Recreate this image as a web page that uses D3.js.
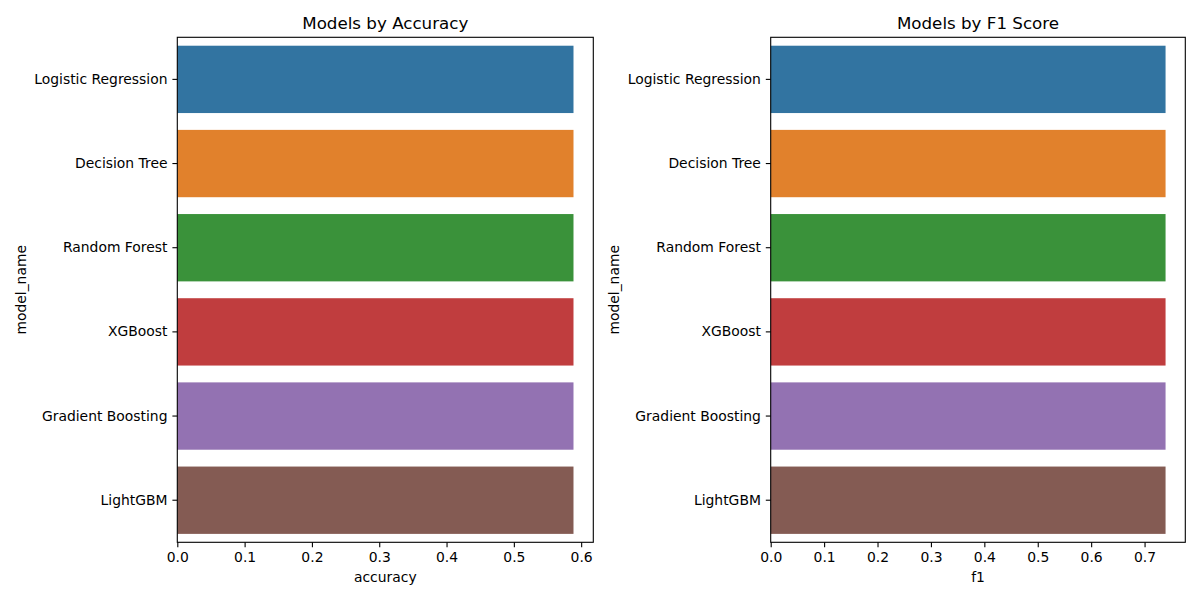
<!DOCTYPE html>
<html>
<head>
<meta charset="utf-8">
<script src="https://cdn.jsdelivr.net/npm/d3@7"></script>
<style>
  body { margin: 0; background: #fff; }
  text { font-family: "DejaVu Sans", sans-serif; fill: #000; }
</style>
</head>
<body>
<svg width="1200" height="600"></svg>
<script>
const models = ["Logistic Regression", "Decision Tree", "Random Forest", "XGBoost", "Gradient Boosting", "LightGBM"]
const accuracy = [0.5886, 0.5886, 0.5886, 0.5886, 0.5886, 0.5886]
const f1 = [0.7393, 0.7393, 0.7393, 0.7393, 0.7393, 0.7393]
const colors = ["#3274a1", "#e1812c", "#3a923a", "#c03d3e", "#9372b2", "#845b53"]
const accTicks = [0, 0.1, 0.2, 0.3, 0.4, 0.5, 0.6]
const f1Ticks = [0, 0.1, 0.2, 0.3, 0.4, 0.5, 0.6, 0.7]

const svg = d3.select("svg")
const plotTop = 37.3, plotBottom = 542.3
const fs = "13.9px"

function panel(x0, x1, values, ticks, title, xlabel, ylabelX) {
	var xScale = d3.scaleLinear()
		.domain([0, d3.max(values) * 1.05])
		.range([x0, x1])
	var yScale = d3.scaleBand()
		.domain(models)
		.range([plotTop, plotBottom])
		.paddingInner(0.2)
		.paddingOuter(0.1)

	var g = svg.append("g")

	g.selectAll("rect.bar").data(models).enter().append("rect")
		.attr("class", "bar")
		.attr("x", xScale(0))
		.attr("y", d => yScale(d))
		.attr("width", (d, i) => xScale(values[i]) - xScale(0))
		.attr("height", yScale.bandwidth())
		.attr("fill", (d, i) => colors[i])

	// frame
	g.append("rect")
		.attr("x", x0).attr("y", plotTop)
		.attr("width", x1 - x0).attr("height", plotBottom - plotTop)
		.attr("fill", "none").attr("stroke", "#000").attr("stroke-width", 1.1)

	var xAxis = g.append("g")
		.attr("transform", "translate(0," + plotBottom + ")")
		.call(d3.axisBottom(xScale).tickValues(ticks).tickFormat(d3.format(".1f")).tickSize(4.9).tickPadding(4.9))
	xAxis.select(".domain").remove()
	xAxis.selectAll("text").style("font-size", fs).style("font-family", "DejaVu Sans")
	xAxis.selectAll("line").attr("stroke-width", 1.1)

	var yAxis = g.append("g")
		.attr("transform", "translate(" + x0 + ",0)")
		.call(d3.axisLeft(yScale).tickSize(4.9).tickPadding(4.9))
	yAxis.select(".domain").remove()
	yAxis.selectAll("text").style("font-size", fs).style("font-family", "DejaVu Sans")
	yAxis.selectAll("line").attr("stroke-width", 1.1)

	g.append("text")
		.attr("x", (x0 + x1) / 2).attr("y", 29)
		.attr("text-anchor", "middle")
		.style("font-size", "16.7px")
		.text(title)

	g.append("text")
		.attr("x", (x0 + x1) / 2).attr("y", 582)
		.attr("text-anchor", "middle")
		.style("font-size", fs)
		.text(xlabel)

	g.append("text")
		.attr("transform", "translate(" + ylabelX + "," + (plotTop + plotBottom) / 2 + ") rotate(-90)")
		.attr("text-anchor", "middle")
		.style("font-size", fs)
		.text("model_name")
}

panel(177.3, 593.3, accuracy, accTicks, "Models by Accuracy", "accuracy", 26)
panel(770.7, 1185.3, f1, f1Ticks, "Models by F1 Score", "f1", 619)
</script>
</body>
</html>
